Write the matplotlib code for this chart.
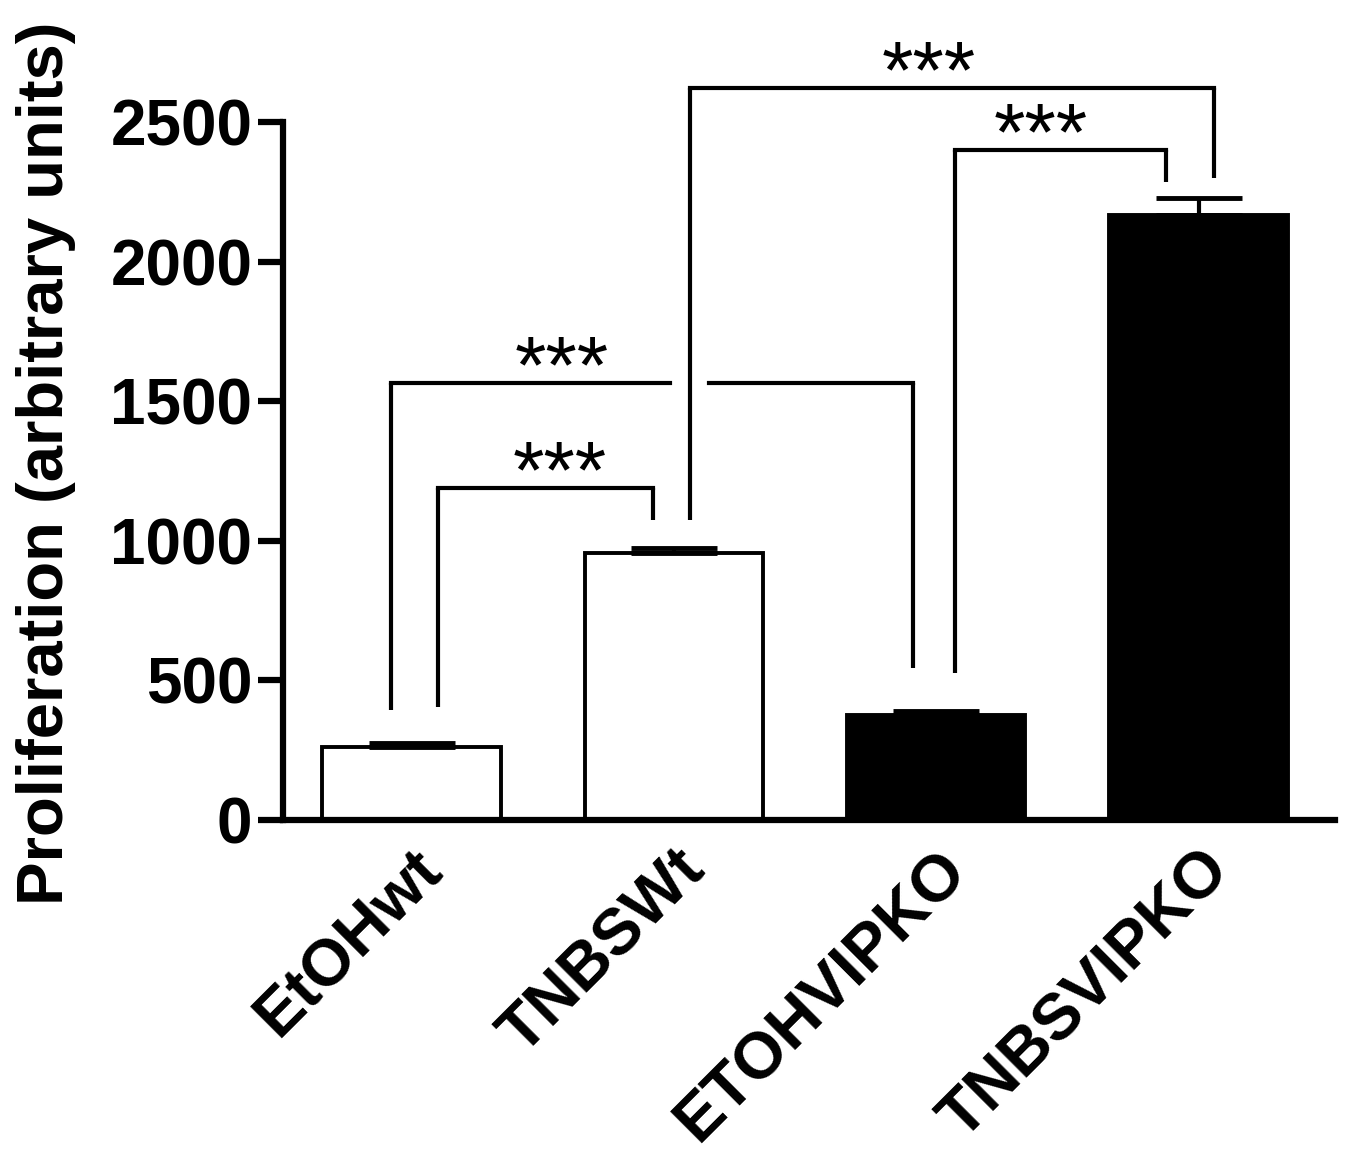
import matplotlib
matplotlib.use("Agg")
import matplotlib.pyplot as plt
import numpy as np

# ---------------- data ----------------
categories = ["EtOHwt", "TNBSWt", "ETOHVIPKO", "TNBSVIPKO"]
means = [261, 956, 376, 2167]
sem = [15, 18, 14, 61]
fills = ["white", "white", "black", "black"]
yticks = [0, 500, 1000, 1500, 2000, 2500]
ylabel = "Proliferation (arbitrary units)"

# significance brackets
br_left = [0, 0, 1, 2]               # left bar index
br_right = [2, 1, 3, 3]              # right bar index
br_level = [1565, 1189, 2622, 2400]  # height of horizontal line
br_left_end = [394, 405, 1075, 527]  # bottom of left leg
br_right_end = [544, 1075, 2299, 2285]  # bottom of right leg
br_label = ["***", "***", "***", "***"]
star_x = [0.571, 0.566, 1.97, 2.397]

# ---------------- layout ----------------
plt.rcParams["font.family"] = ["Liberation Sans", "DejaVu Sans"]
W, H = 1345, 1170
fig = plt.figure(figsize=(W / 100, H / 100), dpi=100)
ax = fig.add_axes([283 / W, 1 - 820 / H, (1335 - 283) / W, (820 - 122) / H])

x = np.arange(len(categories))
bar_w = 0.68
ax.bar(x, means, width=bar_w, color=fills, edgecolor="black", linewidth=2.8, zorder=2)
ax.errorbar(x, means, yerr=[np.zeros(len(sem)), sem], fmt="none", ecolor="black",
            elinewidth=3, capsize=31, capthick=3.5, zorder=3)

ax.set_xlim(-0.49, 3.52)
ax.set_ylim(0, 2500)

for s in ["top", "right"]:
    ax.spines[s].set_visible(False)
for s in ["left", "bottom"]:
    ax.spines[s].set_linewidth(4.5)
    ax.spines[s].set_capstyle("projecting")

ax.set_yticks(yticks)
ax.set_yticklabels([str(v) for v in yticks], fontsize=46, fontweight="bold")
ax.tick_params(axis="y", direction="out", length=18, width=4.5, pad=4)

ax.set_xticks(x)
ax.set_xticklabels(categories, rotation=45, ha="right", va="top",
                   rotation_mode="anchor", fontsize=47, fontweight="bold")
ax.tick_params(axis="x", length=0, pad=14)

fig.text(46 / W, 1 - 463 / H, ylabel, rotation=90, ha="center", va="center",
         fontsize=47, fontweight="bold")

# leg x offsets (relative to bar centres)
left_off = [-0.08, 0.10, 0.06, 0.07]
right_off = [-0.09, -0.08, 0.06, -0.125]
lw_b = 3.0
for k in range(len(br_left)):
    xl = br_left[k] + left_off[k]
    xr = br_right[k] + right_off[k]
    lvl = br_level[k]
    ax.plot([xl, xl], [br_left_end[k], lvl], color="black", lw=lw_b, clip_on=False,
            solid_capstyle="butt", zorder=4)
    ax.plot([xr, xr], [br_right_end[k], lvl], color="black", lw=lw_b, clip_on=False,
            solid_capstyle="butt", zorder=4)
    # gap where a taller bracket's leg crosses
    crossings = []
    for m in range(len(br_left)):
        if m == k:
            continue
        for lx, bottom in ((br_left[m] + left_off[m], br_left_end[m]),
                           (br_right[m] + right_off[m], br_right_end[m])):
            if xl < lx < xr and br_level[m] > lvl and bottom < lvl:
                crossings.append(lx)
    segs = []
    start = xl
    for cx in sorted(crossings):
        segs.append((start, cx - 0.075))
        start = cx + 0.075
    segs.append((start, xr))
    for a, b in segs:
        ax.plot([a, b], [lvl, lvl], color="black", lw=lw_b, clip_on=False,
                solid_capstyle="projecting", zorder=4)
    ax.annotate(br_label[k], xy=(star_x[k], lvl), xytext=(0, -7),
                textcoords="offset points", ha="center", va="baseline",
                fontsize=58, annotation_clip=False)

fig.savefig("out.png", dpi=100)
